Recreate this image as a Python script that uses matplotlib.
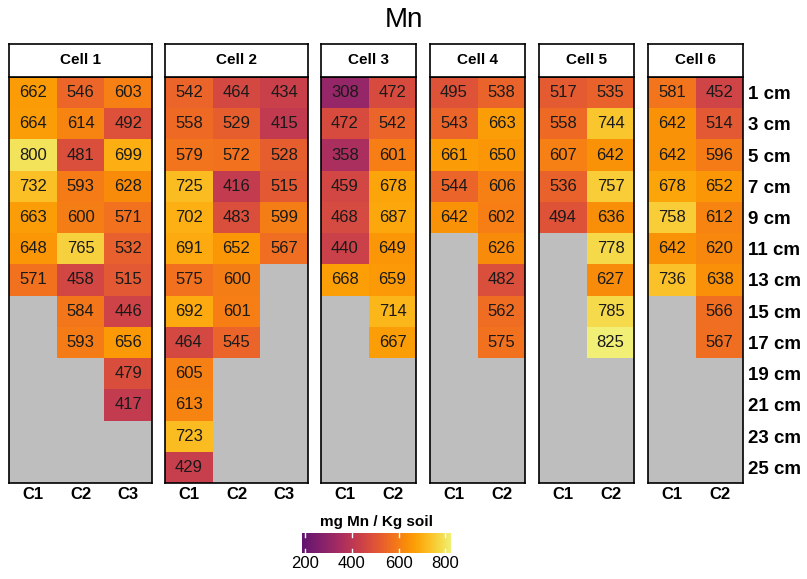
import numpy as np
import matplotlib.pyplot as plt
from matplotlib.colors import ListedColormap, Normalize

plt.rcParams['font.family'] = ['Liberation Sans', 'DejaVu Sans']

# Mn concentration (mg/kg soil) by cell, core and depth
depths = ["1 cm", "3 cm", "5 cm", "7 cm", "9 cm", "11 cm", "13 cm",
          "15 cm", "17 cm", "19 cm", "21 cm", "23 cm", "25 cm"]
na = np.nan
cell1 = {"C1": [662, 664, 800, 732, 663, 648, 571],
         "C2": [546, 614, 481, 593, 600, 765, 458, 584, 593],
         "C3": [603, 492, 699, 628, 571, 532, 515, 446, 656, 479, 417]}
cell2 = {"C1": [542, 558, 579, 725, 702, 691, 575, 692, 464, 605, 613, 723, 429],
         "C2": [464, 529, 572, 416, 483, 652, 600, 601, 545],
         "C3": [434, 415, 528, 515, 599, 567]}
cell3 = {"C1": [308, 472, 358, 459, 468, 440, 668],
         "C2": [472, 542, 601, 678, 687, 649, 659, 714, 667]}
cell4 = {"C1": [495, 543, 661, 544, 642],
         "C2": [538, 663, 650, 606, 602, 626, 482, 562, 575]}
cell5 = {"C1": [517, 558, 607, 536, 494],
         "C2": [535, 744, 642, 757, 636, 778, 627, 785, 825]}
cell6 = {"C1": [581, 642, 642, 678, 758, 642, 736],
         "C2": [452, 514, 596, 652, 612, 620, 638, 566, 567]}
cells = ["Cell 1", "Cell 2", "Cell 3", "Cell 4", "Cell 5", "Cell 6"]
data = [cell1, cell2, cell3, cell4, cell5, cell6]

vmin, vmax = 186, 825
cmap = ListedColormap(plt.get_cmap("inferno")(np.linspace(0.28, 0.95, 256)))
cmap.set_bad("#bebebe")
norm = Normalize(vmin, vmax)

W, H = 807, 579
fig = plt.figure(figsize=(W / 100, H / 100), dpi=100)
fig.text(0.5, 1 - 20 / H, "Mn", ha="center", va="center", fontsize=20)

lefts = [9, 165, 321, 430, 539, 648]
colw = 47.7
top, bottom = 77, 483
strip_top = 44
nrow = len(depths)

for k, (name, d) in enumerate(zip(cells, data)):
    cols = list(d.keys())
    mat = np.full((nrow, len(cols)), na)
    for j, c in enumerate(cols):
        mat[:len(d[c]), j] = d[c]
    w = colw * len(cols)
    ax = fig.add_axes([lefts[k] / W, 1 - bottom / H, w / W, (bottom - top) / H])
    ax.pcolormesh(np.ma.masked_invalid(mat), cmap=cmap, norm=norm)
    ax.set_xlim(0, len(cols))
    ax.set_ylim(nrow, 0)
    for i in range(nrow):
        for j in range(len(cols)):
            if not np.isnan(mat[i, j]):
                ax.text(j + 0.5, i + 0.5, f"{mat[i, j]:.0f}", ha="center",
                        va="center", fontsize=12, color="#1a1a1a")
    ax.set_xticks(np.arange(len(cols)) + 0.5)
    ax.set_xticklabels(cols, fontsize=12, fontweight="bold")
    ax.tick_params(length=0, pad=3)
    ax.set_yticks([])
    for s in ax.spines.values():
        s.set_linewidth(1.2)
    if k == len(cells) - 1:
        ax.set_yticks(np.arange(nrow) + 0.5)
        ax.set_yticklabels(depths, fontsize=13.5, fontweight="bold")
        ax.yaxis.tick_right()
    # strip
    sax = fig.add_axes([lefts[k] / W, 1 - top / H, w / W, (top - strip_top) / H])
    sax.set_xticks([])
    sax.set_yticks([])
    for s in sax.spines.values():
        s.set_linewidth(1.2)
    sax.text(0.5, 0.5, name, ha="center", va="center", fontsize=11,
             fontweight="bold", transform=sax.transAxes)

# colour bar
cax = fig.add_axes([302 / W, 1 - 553 / H, 149 / W, 20 / H])
grad = np.linspace(vmin, vmax, 300)[None, :]
cax.imshow(grad, aspect="auto", cmap=cmap, norm=norm,
           extent=[vmin, vmax, 0, 1])
cax.set_xlim(vmin, vmax)
ticks = [200, 400, 600, 800]
for t in ticks:
    cax.plot([t, t], [0, 0.2], color="white", lw=1)
    cax.plot([t, t], [0.8, 1], color="white", lw=1)
cax.set_xticks(ticks)
cax.set_xticklabels([str(t) for t in ticks], fontsize=12)
cax.tick_params(length=0, pad=2)
cax.set_yticks([])
for s in cax.spines.values():
    s.set_visible(False)
cax.set_title("mg Mn / Kg soil", fontsize=11, fontweight="bold", pad=5)

fig.savefig("out.png", dpi=100)
